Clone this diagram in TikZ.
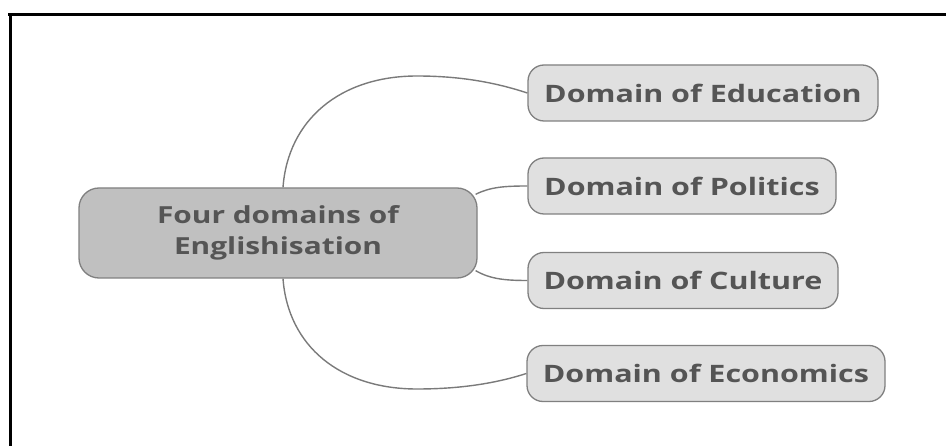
\documentclass[tikz,border=0pt]{standalone}
\usepackage{fontspec}
\setmainfont{Open Sans}[FakeStretch=1.27]
\usetikzlibrary{calc}
\definecolor{txtgray}{HTML}{555555}
\definecolor{leaffill}{HTML}{E0E0E0}
\definecolor{rootfill}{HTML}{C0C0C0}
\definecolor{edgegray}{HTML}{808080}
\definecolor{linkgray}{HTML}{7A7A7A}
\begin{document}
\begin{tikzpicture}[x=1pt,y=-1pt,
  leaf/.style={draw=edgegray, line width=1.3pt, fill=leaffill, rounded corners=16pt,
    minimum height=56pt, inner sep=0pt, text=txtgray,
    font=\fontsize{24}{28}\selectfont\bfseries},
  root/.style={draw=edgegray, line width=1.3pt, fill=rootfill, rounded corners=20pt,
    minimum width=398pt, minimum height=90pt, inner sep=0pt, text=txtgray, align=center,
    font=\fontsize{23.5}{31}\selectfont\bfseries},
  link/.style={draw=linkgray, line width=1.4pt},
  frame/.style={draw=black, line width=3pt}]
\useasboundingbox (0,0) rectangle (946,446);
% open frame: top and left rules only
\draw[frame] (8,15) -- (946,15);
\draw[frame] (10,14) -- (10,446);

% nodes
\node[root] (c) at (278,233) {Four domains of\\Englishisation};
\node[leaf, minimum width=350pt] (edu) at (703,93) {Domain of Education};
\node[leaf, minimum width=308pt] (pol) at (682,186) {Domain of Politics};
\node[leaf, minimum width=310pt] (cul) at (683,280.5) {Domain of Culture};
\node[leaf, minimum width=358pt] (eco) at (706,373.5) {Domain of Economics};

% attachment points on the root
\coordinate (ctop) at ($(c.north)+(5,0)$);
\coordinate (cbot) at ($(c.south)+(5,0)$);
\coordinate (cne) at ($(c.north east)+(-2,7)$);
\coordinate (cse) at ($(c.south east)+(-2,-8)$);

% connectors
\draw[link] (ctop) .. controls (288,120) and (340,76) .. (417,76)
  .. controls (465,76) and (500,84) .. (edu.west);
\draw[link] (cne) .. controls (490,187) and (505,186) .. (pol.west);
\draw[link] (cse) .. controls (490,279) and (505,280.5) .. (cul.west);
\draw[link] (cbot) .. controls (288,346) and (340,389) .. (417,389)
  .. controls (465,389) and (500,382) .. (eco.west);
\end{tikzpicture}
\end{document}
